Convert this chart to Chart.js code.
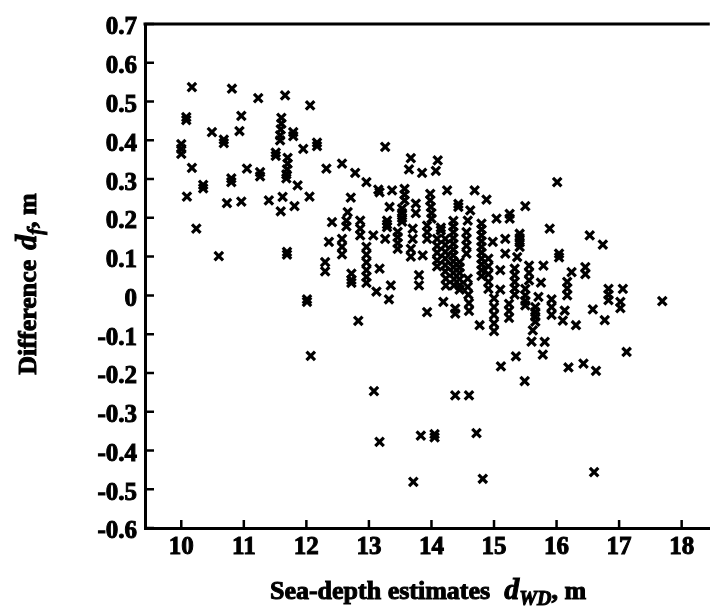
<!DOCTYPE html>
<html>
<head>
<meta charset="utf-8">
<title>Difference vs sea-depth estimates</title>
<script src="https://cdn.jsdelivr.net/npm/chart.js@4.4.1/dist/chart.umd.min.js"></script>
<style>
  html, body { margin: 0; padding: 0; background: #fff; }
  #wrap { width: 719px; height: 613px; position: relative; }
</style>
</head>
<body>
<div id="wrap"><canvas id="depthChart"></canvas></div>
<script>
// axis ticks
const depthTicks = [10, 11, 12, 13, 14, 15, 16, 17, 18];
const diffTicks = [-0.6, -0.5, -0.4, -0.3, -0.2, -0.1, 0, 0.1, 0.2, 0.3, 0.4, 0.5, 0.6, 0.7];

// sea-depth estimate d_WD (m) of each sample, same order as `difference`
const seaDepth = [
  10.00, 10.00, 10.00, 10.08, 10.08, 10.09, 10.17, 10.17, 10.24, 10.35,
  10.35, 10.49, 10.60, 10.68, 10.68, 10.73, 10.80, 10.80, 10.81, 10.93,
  10.96, 10.96,
  11.05, 11.23, 11.26, 11.26, 11.40, 11.51, 11.51, 11.59, 11.60, 11.60,
  11.59, 11.58, 11.58, 11.62, 11.66, 11.69, 11.69, 11.70, 11.70, 11.69,
  11.68, 11.68, 11.79, 11.79, 11.81, 11.86, 11.95,
  12.01, 12.01, 12.05, 12.06, 12.07, 12.17, 12.17, 12.30, 12.30, 12.32,
  12.36, 12.41, 12.57, 12.57, 12.57, 12.57, 12.64, 12.64, 12.66, 12.71,
  12.72, 12.72, 12.72, 12.78, 12.83, 12.86, 12.86, 12.86, 12.96, 12.96,
  12.96, 12.96, 12.96, 12.96, 12.96,
  13.07, 13.08, 13.12, 13.15, 13.17, 13.17, 13.17, 13.26, 13.26, 13.29,
  13.29, 13.29, 13.32, 13.33, 13.35, 13.37, 13.46, 13.46, 13.46, 13.46,
  13.53, 13.53, 13.53, 13.53, 13.57, 13.57, 13.57, 13.64, 13.67, 13.67,
  13.67, 13.70, 13.70, 13.71, 13.75, 13.75, 13.80, 13.80, 13.83, 13.85,
  13.86, 13.93, 13.93, 13.93, 13.93, 13.98, 13.98, 13.99, 14.00, 14.00,
  14.05, 14.05, 14.07, 14.09, 14.09, 14.09, 14.09, 14.09, 14.10, 14.15,
  14.15, 14.19, 14.22, 14.22, 14.22, 14.22, 14.22, 14.22, 14.23, 14.23,
  14.25, 14.35, 14.35, 14.35, 14.35, 14.35, 14.35, 14.35, 14.35, 14.35,
  14.35, 14.36, 14.36, 14.38, 14.38, 14.38, 14.43, 14.43, 14.45, 14.45,
  14.45, 14.45, 14.45, 14.45,
  14.56, 14.56, 14.56, 14.56, 14.58, 14.58, 14.58, 14.59, 14.60, 14.60,
  14.60, 14.62, 14.69, 14.72, 14.77, 14.80, 14.80, 14.80, 14.80, 14.80,
  14.80, 14.80, 14.80, 14.80, 14.80, 14.82, 14.88, 14.91, 14.91, 14.91,
  14.91, 14.91, 14.98,
  15.00, 15.00, 15.00, 15.00, 15.00, 15.04, 15.10, 15.10, 15.11, 15.18,
  15.18, 15.25, 15.25, 15.24, 15.24, 15.24, 15.33, 15.33, 15.33, 15.33,
  15.33, 15.35, 15.37, 15.41, 15.41, 15.41, 15.41, 15.49, 15.50, 15.50,
  15.50, 15.50, 15.50,
  15.56, 15.56, 15.56, 15.60, 15.62, 15.66, 15.66, 15.66, 15.66, 15.71,
  15.75, 15.78, 15.79, 15.81, 15.89, 15.92, 15.92, 15.92,
  16.01, 16.04, 16.04, 16.10, 16.13, 16.17, 16.17, 16.17, 16.19, 16.24,
  16.31, 16.43, 16.46, 16.46, 16.53, 16.58, 16.60, 16.63, 16.74, 16.77,
  16.83, 16.83, 16.83, 17.02, 17.02, 17.06, 17.12, 17.69
];

// difference d_f (m)
const difference = [
  0.390, 0.378, 0.365, 0.460, 0.452, 0.255, 0.537, 0.329, 0.172, 0.285,
  0.276, 0.421, 0.101, 0.402, 0.393, 0.238, 0.302, 0.292, 0.533, 0.424,
  0.463, 0.242,
  0.327, 0.509, 0.318, 0.307, 0.245, 0.368, 0.360, 0.217, 0.458, 0.443,
  0.428, 0.413, 0.400, 0.254, 0.516, 0.112, 0.105, 0.355, 0.340, 0.325,
  0.312, 0.302, 0.421, 0.411, 0.230, 0.284, 0.378,
  -0.010, -0.017, 0.255, 0.490, -0.156, 0.394, 0.385, 0.086, 0.062, 0.327,
  0.138, 0.189, 0.340, 0.146, 0.125, 0.106, 0.192, 0.178, 0.215, 0.252,
  0.056, 0.040, 0.032, 0.316, -0.066, 0.193, 0.172, 0.155, 0.292, 0.125,
  0.105, 0.085, 0.065, 0.048, 0.032,
  0.155, -0.247, 0.010, 0.273, 0.266, 0.069, -0.378, 0.383, 0.146, 0.193,
  0.183, 0.176, -0.010, 0.228, 0.026, 0.271, 0.164, 0.150, 0.135, 0.120,
  0.224, 0.212, 0.200, 0.190, 0.275, 0.260, 0.245, 0.325, 0.354, 0.120,
  0.100, 0.172, 0.146, -0.481, 0.237, 0.212, 0.052, 0.026, -0.362, 0.316,
  0.103, 0.180, 0.163, 0.146, -0.043, 0.262, 0.245, 0.228, 0.212, 0.198,
  -0.358, -0.366, 0.321, 0.146, 0.128, 0.110, 0.090, 0.075, 0.348, 0.175,
  0.168, -0.017, 0.146, 0.130, 0.112, 0.095, 0.078, 0.062, 0.043, 0.025,
  0.271, 0.192, 0.178, 0.163, 0.148, 0.133, 0.118, 0.103, 0.088, 0.073,
  0.058, 0.042, 0.026, -0.034, -0.047, -0.258, 0.236, 0.228, 0.086, 0.072,
  0.058, 0.042, 0.026, 0.015,
  0.163, 0.145, 0.128, 0.108, 0.193, 0.043, 0.022, 0.002, -0.020, -0.040,
  -0.258, 0.219, 0.271, -0.355, -0.077, 0.185, 0.170, 0.155, 0.140, 0.125,
  0.110, 0.095, 0.080, 0.065, 0.050, -0.473, 0.247, 0.095, 0.075, 0.055,
  0.035, 0.017, 0.138,
  -0.008, -0.030, -0.050, -0.072, -0.092, 0.198, 0.065, 0.015, -0.183, 0.146,
  0.108, 0.210, 0.198, -0.022, -0.040, -0.058, 0.069, 0.052, 0.035, 0.018,
  0.002, -0.157, 0.099, 0.159, 0.148, 0.137, 0.125, -0.221, 0.230, 0.017,
  0.000, -0.014, -0.026,
  0.077, 0.058, 0.039, -0.119, -0.090, -0.030, -0.043, -0.055, -0.068, -0.004,
  0.033, -0.153, 0.077, -0.120, 0.172, -0.010, -0.030, -0.050,
  0.292, 0.108, 0.098, -0.065, -0.039, 0.035, 0.018, 0.000, -0.186, 0.060,
  -0.077, -0.176, 0.073, 0.055, 0.155, -0.036, -0.456, -0.195, 0.131, -0.064,
  0.017, 0.002, -0.012, -0.017, -0.033, 0.017, -0.146, -0.015
];

const samples = seaDepth.map((x, i) => ({ x: x, y: difference[i] }));

const serif = "'Liberation Serif', 'Times New Roman', serif";
const tickFont = { family: serif, size: 25, weight: 'bold' };

// draws a row of differently styled text pieces centred on (cx, baseline)
function drawRuns(ctx, runs, cx, baseline) {
  let total = 0;
  runs.forEach(r => {
    ctx.font = r.font;
    r.w = ctx.measureText(r.text).width;
    total += r.w + (r.gap || 0);
  });
  let x = cx - total / 2;
  ctx.textAlign = 'left';
  ctx.textBaseline = 'alphabetic';
  ctx.lineWidth = 1;
  runs.forEach(r => {
    ctx.font = r.font;
    ctx.fillText(r.text, x, baseline + (r.dy || 0));
    ctx.strokeText(r.text, x, baseline + (r.dy || 0));
    x += r.w + (r.gap || 0);
  });
}

// inward tick marks, the top frame line and the two axis titles
const frameAndTitles = {
  id: 'frameAndTitles',
  afterDraw(chart) {
    const { ctx, chartArea, scales } = chart;
    const xs = scales.x, ys = scales.y;
    ctx.save();
    ctx.strokeStyle = '#000';
    ctx.fillStyle = '#000';
    ctx.lineWidth = 2.5;
    ctx.beginPath();
    depthTicks.forEach(v => {
      const px = xs.getPixelForValue(v);
      ctx.moveTo(px, chartArea.bottom);
      ctx.lineTo(px, chartArea.bottom - 8);
    });
    diffTicks.forEach(v => {
      const py = ys.getPixelForValue(v);
      ctx.moveTo(chartArea.left, py);
      ctx.lineTo(chartArea.left + 9, py);
    });
    ctx.stroke();

    ctx.lineWidth = 3;
    ctx.beginPath();
    ctx.moveTo(chartArea.left - 1.5, chartArea.top);
    ctx.lineTo(chartArea.right, chartArea.top);
    ctx.stroke();

    const bold = 'bold 26px ' + serif;
    const italic = 'italic bold 30px ' + serif;
    const sub = 'italic bold 20px ' + serif;

    drawRuns(ctx, [
      { text: 'Sea-depth estimates', font: bold, gap: 14 },
      { text: 'd', font: italic },
      { text: 'WD', font: sub, dy: 6 },
      { text: ', m', font: bold }
    ], 428, 599);

    ctx.translate(27, 284);
    ctx.rotate(-Math.PI / 2);
    drawRuns(ctx, [
      { text: 'Difference', font: bold, gap: 10 },
      { text: 'd', font: italic },
      { text: 'f', font: sub, dy: 6 },
      { text: ', m', font: bold }
    ], 0, 9);
    ctx.restore();
  }
};

new Chart(document.getElementById('depthChart'), {
  type: 'scatter',
  data: {
    datasets: [{
      data: samples,
      pointStyle: 'crossRot',
      pointRadius: 6,
      pointBorderWidth: 3.2,
      borderColor: '#000',
      backgroundColor: '#000'
    }]
  },
  options: {
    responsive: true,
    maintainAspectRatio: false,
    animation: false,
    events: [],
    layout: { padding: { top: 24, right: 0, bottom: 0, left: 0 } },
    plugins: {
      legend: { display: false },
      tooltip: { enabled: false }
    },
    scales: {
      x: {
        type: 'linear',
        min: 9.42,
        max: 18.45,
        afterBuildTicks: scale => { scale.ticks = depthTicks.map(v => ({ value: v })); },
        afterFit: scale => { scale.height = 85; },
        grid: { display: false, drawTicks: false },
        border: { display: true, width: 3, color: '#000' },
        ticks: {
          color: '#000', font: tickFont, padding: 5, maxRotation: 0,
          textStrokeColor: '#000', textStrokeWidth: 1
        }
      },
      y: {
        type: 'linear',
        min: -0.6,
        max: 0.7,
        afterBuildTicks: scale => { scale.ticks = diffTicks.map(v => ({ value: v })); },
        afterFit: scale => { scale.width = 145; },
        grid: { display: false, drawTicks: false },
        border: { display: true, width: 3, color: '#000' },
        ticks: {
          color: '#000',
          font: tickFont,
          padding: 8,
          labelOffset: 4,
          textStrokeColor: '#000',
          textStrokeWidth: 1,
          callback: v => (v === 0 ? '0' : v.toFixed(1))
        }
      }
    }
  },
  plugins: [frameAndTitles]
});
</script>
</body>
</html>
